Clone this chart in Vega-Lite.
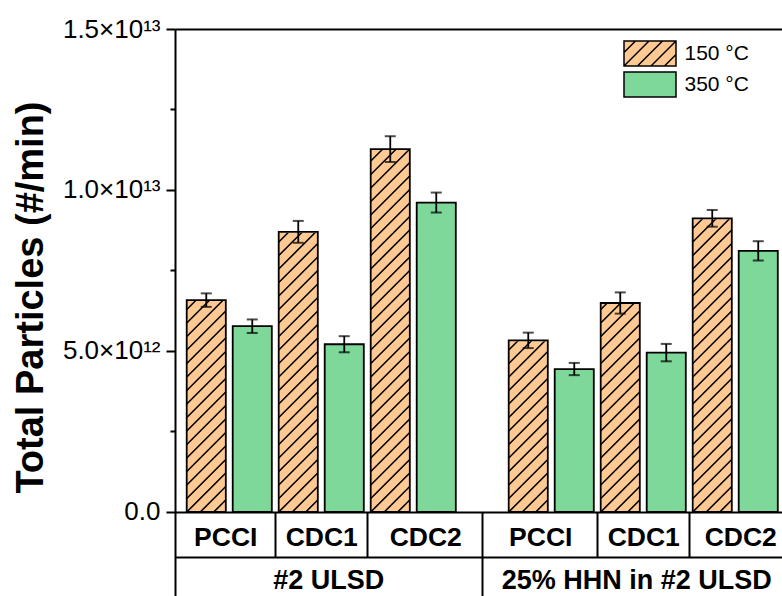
{
  "$schema": "https://vega.github.io/schema/vega-lite/v6.json",
  "width": 607,
  "height": 567,
  "autosize": {"type": "none"},
  "padding": {"left": 175, "top": 29, "right": 0, "bottom": 0},
  "background": "white",
  "config": {
    "view": {"stroke": null},
    "axis": {"zindex": 1, "domainColor": "black", "tickColor": "black", "labelColor": "black", "titleColor": "black", "labelFont": "Liberation Sans", "titleFont": "Liberation Sans", "grid": false}
  },
  "data": {"values": [
    {"fuel": "#2 ULSD", "engine": "PCCI", "temp": "150 °C", "bar": "#2 ULSD / PCCI / 150 °C", "value": 6.58e12, "err": 0.21e12},
    {"fuel": "#2 ULSD", "engine": "PCCI", "temp": "350 °C", "bar": "#2 ULSD / PCCI / 350 °C", "value": 5.77e12, "err": 0.21e12},
    {"fuel": "#2 ULSD", "engine": "CDC1", "temp": "150 °C", "bar": "#2 ULSD / CDC1 / 150 °C", "value": 8.70e12, "err": 0.34e12},
    {"fuel": "#2 ULSD", "engine": "CDC1", "temp": "350 °C", "bar": "#2 ULSD / CDC1 / 350 °C", "value": 5.21e12, "err": 0.25e12},
    {"fuel": "#2 ULSD", "engine": "CDC2", "temp": "150 °C", "bar": "#2 ULSD / CDC2 / 150 °C", "value": 11.27e12, "err": 0.40e12},
    {"fuel": "#2 ULSD", "engine": "CDC2", "temp": "350 °C", "bar": "#2 ULSD / CDC2 / 350 °C", "value": 9.61e12, "err": 0.31e12},
    {"fuel": "25% HHN in #2 ULSD", "engine": "PCCI", "temp": "150 °C", "bar": "25% HHN in #2 ULSD / PCCI / 150 °C", "value": 5.33e12, "err": 0.24e12},
    {"fuel": "25% HHN in #2 ULSD", "engine": "PCCI", "temp": "350 °C", "bar": "25% HHN in #2 ULSD / PCCI / 350 °C", "value": 4.44e12, "err": 0.19e12},
    {"fuel": "25% HHN in #2 ULSD", "engine": "CDC1", "temp": "150 °C", "bar": "25% HHN in #2 ULSD / CDC1 / 150 °C", "value": 6.49e12, "err": 0.33e12},
    {"fuel": "25% HHN in #2 ULSD", "engine": "CDC1", "temp": "350 °C", "bar": "25% HHN in #2 ULSD / CDC1 / 350 °C", "value": 4.95e12, "err": 0.27e12},
    {"fuel": "25% HHN in #2 ULSD", "engine": "CDC2", "temp": "150 °C", "bar": "25% HHN in #2 ULSD / CDC2 / 150 °C", "value": 9.12e12, "err": 0.26e12},
    {"fuel": "25% HHN in #2 ULSD", "engine": "CDC2", "temp": "350 °C", "bar": "25% HHN in #2 ULSD / CDC2 / 350 °C", "value": 8.11e12, "err": 0.30e12}
  ]},
  "resolve": {"axis": {"x": "independent", "y": "independent"}},
  "layer": [
    {
      "mark": {"type": "bar"},
      "encoding": {
        "x": {"field": "bar", "type": "nominal",
          "scale": {"domain": ["#2 ULSD / PCCI / 150 °C", "#2 ULSD / PCCI / 350 °C", "#2 ULSD / CDC1 / 150 °C", "#2 ULSD / CDC1 / 350 °C", "#2 ULSD / CDC2 / 150 °C", "#2 ULSD / CDC2 / 350 °C", "gap", "25% HHN in #2 ULSD / PCCI / 150 °C", "25% HHN in #2 ULSD / PCCI / 350 °C", "25% HHN in #2 ULSD / CDC1 / 150 °C", "25% HHN in #2 ULSD / CDC1 / 350 °C", "25% HHN in #2 ULSD / CDC2 / 150 °C", "25% HHN in #2 ULSD / CDC2 / 350 °C"], "paddingInner": 0.15, "paddingOuter": 0.173, "align": 0.736},
          "axis": {"orient": "bottom", "offset": -84, "title": null, "domain": true, "domainWidth": 2, "ticks": true, "tickSize": 45, "tickWidth": 2, "tickOffset": 23,
            "tickOpacity": {"condition": {"test": "indexof(datum.value, 'PCCI / 350') >= 0 || indexof(datum.value, 'CDC1 / 350') >= 0", "value": 1}, "value": 0},
            "labelExpr": "indexof(datum.value, '150 °C') >= 0 ? split(datum.value, ' / ')[1] : ''",
            "labelAngle": 0, "labelAlign": "center", "labelBaseline": "alphabetic", "labelPadding": -12, "labelFontSize": 26.5, "labelFontWeight": "bold",
            "labelOffset": {"condition": [
              {"test": "datum.value === '#2 ULSD / PCCI / 150 °C'", "value": -4},
              {"test": "datum.value === '#2 ULSD / CDC2 / 150 °C'", "value": 12},
              {"test": "datum.value === '25% HHN in #2 ULSD / PCCI / 150 °C'", "value": -11},
              {"test": "datum.value === '25% HHN in #2 ULSD / CDC2 / 150 °C'", "value": 5}
            ], "value": 0},
            "labelOverlap": false, "labelLimit": 0, "labelBound": false, "labelFlush": false, "zindex": 1}
        },
        "y": {"field": "value", "type": "quantitative",
          "scale": {"domain": [-2608700000000, 15000000000000], "nice": false},
          "axis": {"orient": "left", "values": [0, 5000000000000, 10000000000000, 15000000000000],
            "labelExpr": "datum.value === 0 ? '0.0' : datum.value === 5000000000000 ? '5.0×10¹²' : datum.value === 10000000000000 ? '1.0×10¹³' : '1.5×10¹³'",
            "labelFontSize": 26, "labelPadding": 6, "labelFlush": false, "labelOverlap": false, "labelBound": false,
            "tickSize": 9, "tickWidth": 2, "domainWidth": 2, "grid": false,
            "title": "Total Particles (#/min)", "titleFontSize": 38, "titleFontWeight": "bold", "titleX": -133, "titleY": 268, "titleAngle": 270, "titleAlign": "center", "titleBaseline": "alphabetic", "zindex": 1}
        },
        "color": {"field": "temp", "type": "nominal",
          "scale": {"domain": ["150 °C", "350 °C"], "range": ["#FFC994", "#7ED89A"]},
          "legend": {"title": null, "orient": "none", "legendX": 448, "legendY": 11, "direction": "vertical", "padding": 0,
            "symbolType": "M-1,-1H3.16V1H-1Z", "symbolSize": 625, "symbolStrokeWidth": 1.5, "symbolStrokeColor": "black", "symbolOpacity": 1,
            "labelFont": "Liberation Sans", "labelFontSize": 21, "labelColor": "black", "labelOffset": 34.5, "rowPadding": 0, "labelLimit": 0,
            "encode": {"symbols": {"update": {
              "shape": [{"test": "datum.value === '150 °C'", "value": "M-1,-1H3.16V1H-1ZM2.24,1L3.16,0.08M1.16,1L3.16,-1M0.08,1L2.08,-1M-1,1L1,-1M-1,-0.08L-0.08,-1"}, {"value": "M-1,-1H3.16V1H-1Z"}],
              "stroke": {"value": "black"}, "strokeWidth": {"value": 1.5}, "opacity": {"value": 1}}}}
          }
        }
      }
    },
    {
      "transform": [{"filter": "datum.temp === '150 °C'"}],
      "mark": {"type": "point", "shape": "M7.5,0L19.5,-12M-6,0L19.5,-25.5M-19.5,0L19.5,-39M-19.5,-13.5L19.5,-52.5M-19.5,-27L19.5,-66M-19.5,-40.5L19.5,-79.5M-19.5,-54L19.5,-93M-19.5,-67.5L19.5,-106.5M-19.5,-81L19.5,-120M-19.5,-94.5L19.5,-133.5M-19.5,-108L19.5,-147M-19.5,-121.5L19.5,-160.5M-19.5,-135L19.5,-174M-19.5,-148.5L19.5,-187.5M-19.5,-162L19.5,-201M-19.5,-175.5L19.5,-214.5M-19.5,-189L19.5,-228M-19.5,-202.5L19.5,-241.5M-19.5,-216L19.5,-255M-19.5,-229.5L19.5,-268.5M-19.5,-243L19.5,-282M-19.5,-256.5L19.5,-295.5M-19.5,-270L19.5,-309M-19.5,-283.5L19.5,-322.5M-19.5,-297L19.5,-336M-19.5,-310.5L19.5,-349.5M-19.5,-324L19.5,-363M-19.5,-337.5L19.5,-376.5M-19.5,-351L19.5,-390M-19.5,-364.5L19.5,-403.5M-19.5,-378L19.5,-417", "size": 4, "filled": false, "stroke": "black", "strokeWidth": 1.6, "opacity": 1},
      "encoding": {
        "x": {"field": "bar", "type": "nominal",
          "scale": {"domain": ["#2 ULSD / PCCI / 150 °C", "#2 ULSD / PCCI / 350 °C", "#2 ULSD / CDC1 / 150 °C", "#2 ULSD / CDC1 / 350 °C", "#2 ULSD / CDC2 / 150 °C", "#2 ULSD / CDC2 / 350 °C", "gap", "25% HHN in #2 ULSD / PCCI / 150 °C", "25% HHN in #2 ULSD / PCCI / 350 °C", "25% HHN in #2 ULSD / CDC1 / 150 °C", "25% HHN in #2 ULSD / CDC1 / 350 °C", "25% HHN in #2 ULSD / CDC2 / 150 °C", "25% HHN in #2 ULSD / CDC2 / 350 °C"], "paddingInner": 0.15, "paddingOuter": 0.173, "align": 0.736},
          "axis": {"orient": "bottom", "offset": -84, "title": null, "domain": false, "labels": false, "ticks": true, "tickSize": 84, "tickWidth": 2,
            "tickOpacity": {"condition": {"test": "datum.value === 'gap'", "value": 1}, "value": 0}, "zindex": 1}
        },
        "y": {"datum": 0, "type": "quantitative",
          "scale": {"domain": [-2608700000000, 15000000000000], "nice": false},
          "axis": {"orient": "left", "values": [2500000000000, 7500000000000, 12500000000000], "labels": false, "domain": false, "tickSize": 5, "tickWidth": 2, "title": null, "grid": false, "zindex": 1}
        }
      }
    },
    {
      "transform": [{"filter": "datum.temp === '150 °C'"}],
      "mark": {"type": "bar", "color": "white", "fill": "white", "stroke": "white", "strokeWidth": 1.6},
      "encoding": {
        "x": {"field": "bar", "type": "nominal",
          "scale": {"domain": ["#2 ULSD / PCCI / 150 °C", "#2 ULSD / PCCI / 350 °C", "#2 ULSD / CDC1 / 150 °C", "#2 ULSD / CDC1 / 350 °C", "#2 ULSD / CDC2 / 150 °C", "#2 ULSD / CDC2 / 350 °C", "gap", "25% HHN in #2 ULSD / PCCI / 150 °C", "25% HHN in #2 ULSD / PCCI / 350 °C", "25% HHN in #2 ULSD / CDC1 / 150 °C", "25% HHN in #2 ULSD / CDC1 / 350 °C", "25% HHN in #2 ULSD / CDC2 / 150 °C", "25% HHN in #2 ULSD / CDC2 / 350 °C"], "paddingInner": 0.15, "paddingOuter": 0.173, "align": 0.736},
          "axis": {"orient": "bottom", "offset": -39, "title": null, "domain": true, "domainWidth": 2, "ticks": false, "tickSize": 0,
            "labelExpr": "indexof(datum.value, 'CDC1 / 150') >= 0 ? split(datum.value, ' / ')[0] : ''",
            "labelAngle": 0, "labelAlign": "center", "labelBaseline": "alphabetic", "labelPadding": 31, "labelFontSize": 27, "labelFontWeight": "bold",
            "labelOffset": {"condition": {"test": "indexof(datum.value, '25% HHN') >= 0", "value": 16.5}, "value": 30.5},
            "labelOverlap": false, "labelLimit": 0, "labelBound": false, "labelFlush": false, "zindex": 1}
        },
        "y": {"field": "value", "type": "quantitative", "scale": {"domain": [-2608700000000, 15000000000000], "nice": false}, "axis": null},
        "y2": {"datum": 15000000000000}
      }
    },
    {
      "mark": {"type": "bar", "fillOpacity": 0, "stroke": "black", "strokeWidth": 1.8},
      "encoding": {
        "x": {"field": "bar", "type": "nominal",
          "scale": {"domain": ["#2 ULSD / PCCI / 150 °C", "#2 ULSD / PCCI / 350 °C", "#2 ULSD / CDC1 / 150 °C", "#2 ULSD / CDC1 / 350 °C", "#2 ULSD / CDC2 / 150 °C", "#2 ULSD / CDC2 / 350 °C", "gap", "25% HHN in #2 ULSD / PCCI / 150 °C", "25% HHN in #2 ULSD / PCCI / 350 °C", "25% HHN in #2 ULSD / CDC1 / 150 °C", "25% HHN in #2 ULSD / CDC1 / 350 °C", "25% HHN in #2 ULSD / CDC2 / 150 °C", "25% HHN in #2 ULSD / CDC2 / 350 °C"], "paddingInner": 0.15, "paddingOuter": 0.173, "align": 0.736},
          "axis": {"orient": "top", "title": null, "domain": true, "domainWidth": 2, "ticks": false, "labels": false, "zindex": 1}
        },
        "y": {"field": "value", "type": "quantitative", "scale": {"domain": [-2608700000000, 15000000000000], "nice": false}, "axis": null}
      }
    },
    {
      "mark": {"type": "errorbar", "color": "black", "ticks": {"size": 11, "thickness": 2, "color": "black"}, "rule": {"strokeWidth": 1.8, "color": "black"}},
      "encoding": {
        "x": {"field": "bar", "type": "nominal",
          "scale": {"domain": ["#2 ULSD / PCCI / 150 °C", "#2 ULSD / PCCI / 350 °C", "#2 ULSD / CDC1 / 150 °C", "#2 ULSD / CDC1 / 350 °C", "#2 ULSD / CDC2 / 150 °C", "#2 ULSD / CDC2 / 350 °C", "gap", "25% HHN in #2 ULSD / PCCI / 150 °C", "25% HHN in #2 ULSD / PCCI / 350 °C", "25% HHN in #2 ULSD / CDC1 / 150 °C", "25% HHN in #2 ULSD / CDC1 / 350 °C", "25% HHN in #2 ULSD / CDC2 / 150 °C", "25% HHN in #2 ULSD / CDC2 / 350 °C"], "paddingInner": 0.15, "paddingOuter": 0.173, "align": 0.736},
          "axis": null},
        "y": {"field": "value", "type": "quantitative", "scale": {"domain": [-2608700000000, 15000000000000], "nice": false}, "axis": null},
        "yError": {"field": "err"}
      }
    }
  ]
}
